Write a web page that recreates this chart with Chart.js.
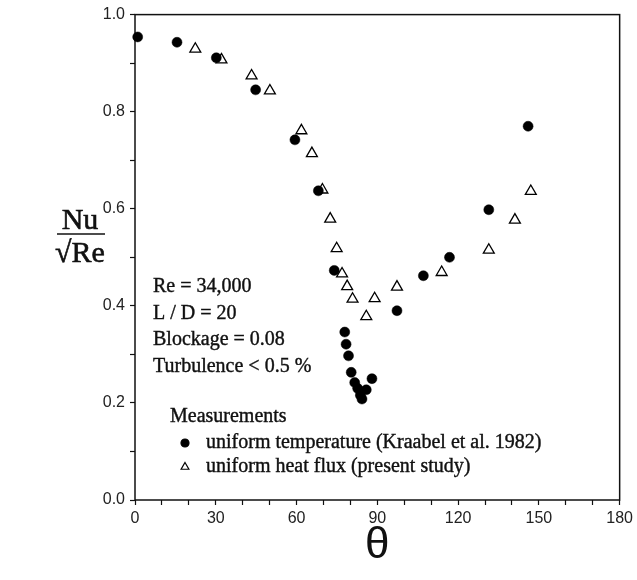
<!DOCTYPE html>
<html>
<head>
<meta charset="utf-8">
<script src="https://cdn.jsdelivr.net/npm/chart.js@4.4.0/dist/chart.umd.min.js"></script>
<style>
  html, body { margin: 0; padding: 0; background: #fff; }
</style>
</head>
<body>
<canvas id="chart" width="637" height="580"></canvas>
<script>
// theta (deg) and Nu/sqrt(Re)
const tempTheta = [1, 15.6, 30.2, 44.8, 59.4, 68.1, 74, 77.9, 78.4, 79.3, 80.3, 81.6, 82.7, 83.7, 84.3, 85.9, 88, 97.3, 107.1, 116.8, 131.4, 146];
const tempNu = [0.954, 0.943, 0.911, 0.845, 0.742, 0.637, 0.473, 0.346, 0.321, 0.297, 0.263, 0.242, 0.23, 0.216, 0.208, 0.227, 0.25, 0.39, 0.462, 0.5, 0.598, 0.77];

const fluxTheta = [22.4, 32.1, 43.3, 50.1, 61.8, 65.7, 69.6, 72.5, 74.9, 76.9, 78.8, 80.8, 85.9, 89, 97.3, 113.9, 131.4, 141.1, 147];
const fluxNu = [0.929, 0.907, 0.874, 0.843, 0.761, 0.714, 0.639, 0.579, 0.518, 0.466, 0.44, 0.414, 0.378, 0.415, 0.439, 0.469, 0.515, 0.577, 0.636];

const infoLines = ["Re = 34,000", "L / D = 20", "Blockage = 0.08", "Turbulence < 0.5 %"];
const legendTitle = "Measurements";
const seriesLabels = ["uniform temperature (Kraabel et al. 1982)", "uniform heat flux (present study)"];

const serif = '"Liberation Serif", "Times New Roman", serif';
const sans = '"Liberation Sans", Arial, sans-serif';

// box around the plot area
const frame = {
    id: "frame",
    beforeDatasetsDraw(chart) {
        const { ctx, chartArea: a } = chart;
        ctx.save();
        ctx.strokeStyle = "#111";
        ctx.lineWidth = 1.5;
        ctx.strokeRect(a.left, a.top, a.right - a.left, a.bottom - a.top);
        ctx.restore();
    }
};

// printed text looks a bit heavier than the plain font
function inkText(ctx, t, x, y) {
    ctx.fillText(t, x, y);
    ctx.strokeText(t, x, y);
}

// text block, legend and the Nu/sqrt(Re) label
const notes = {
    id: "notes",
    afterDraw(chart) {
        const ctx = chart.ctx;
        ctx.save();
        ctx.fillStyle = "#111";
        ctx.strokeStyle = "#111";
        ctx.lineWidth = 0.4;
        ctx.font = "20px " + serif;
        ctx.textBaseline = "alphabetic";
        ctx.textAlign = "left";
        infoLines.forEach((t, i) => inkText(ctx, t, 153, 292 + i * 26.5));

        inkText(ctx, legendTitle, 170, 422);
        seriesLabels.forEach((t, i) => {
            const y = 448 + i * 24;
            const ds = chart.data.datasets[i];
            ctx.save();
            ctx.fillStyle = ds.backgroundColor;
            ctx.strokeStyle = ds.borderColor;
            ctx.lineWidth = 1.2;
            Chart.helpers.drawPoint(ctx, {
                pointStyle: ds.pointStyle,
                radius: i ? 4.5 : 4,
                borderWidth: 1.2,
                rotation: 0
            }, 185, y - 5);
            ctx.restore();
            inkText(ctx, t, 206, y);
        });

        // y axis title as a fraction
        ctx.textAlign = "center";
        ctx.font = "30px " + serif;
        ctx.lineWidth = 0.6;
        inkText(ctx, "Nu", 80, 229);
        ctx.beginPath();
        ctx.moveTo(57, 234);
        ctx.lineTo(105, 234);
        ctx.lineWidth = 1.6;
        ctx.stroke();
        ctx.lineWidth = 0.6;
        inkText(ctx, "\u221ARe", 80, 262);
        ctx.restore();
    }
};

new Chart(document.getElementById("chart"), {
    type: "scatter",
    data: {
        datasets: [
            {
                label: seriesLabels[0],
                data: tempTheta.map((x, i) => ({ x: x, y: tempNu[i] })),
                pointStyle: "circle",
                pointRadius: 5,
                backgroundColor: "#000",
                borderColor: "#000",
                borderWidth: 0.5,
                clip: false
            },
            {
                label: seriesLabels[1],
                data: fluxTheta.map((x, i) => ({ x: x, y: fluxNu[i] })),
                pointStyle: "triangle",
                pointRadius: 6.3,
                backgroundColor: "#fff",
                borderColor: "#000",
                borderWidth: 1.3,
                clip: false
            }
        ]
    },
    options: {
        responsive: false,
        animation: false,
        layout: { padding: { top: 14, right: 17, left: 0, bottom: 0 } },
        plugins: { legend: { display: false }, tooltip: { enabled: false } },
        scales: {
            x: {
                type: "linear",
                min: 0,
                max: 180,
                border: { display: false },
                grid: { drawOnChartArea: false, tickLength: 5, color: "#111", tickWidth: 1.2 },
                ticks: {
                    stepSize: 10,
                    padding: 4,
                    autoSkip: false,
                    maxRotation: 0,
                    minRotation: 0,
                    color: "#222",
                    font: { family: sans, size: 16 },
                    callback: (v) => (v % 30 === 0 ? String(v) : "")
                },
                title: {
                    display: true,
                    text: "\u03B8",
                    color: "#111",
                    font: { family: sans, size: 44, weight: "normal" },
                    padding: { top: 0, bottom: 8 }
                },
                afterFit: (scale) => { scale.height = 80; }
            },
            y: {
                type: "linear",
                min: 0,
                max: 1,
                border: { display: false },
                grid: { drawOnChartArea: false, tickLength: 5, color: "#111", tickWidth: 1.2 },
                ticks: {
                    stepSize: 0.1,
                    padding: 5,
                    autoSkip: false,
                    color: "#222",
                    font: { family: sans, size: 16 },
                    callback: (v) => (Math.round(v * 10) % 2 === 0 ? v.toFixed(1) : "")
                },
                afterFit: (scale) => { scale.width = 135; }
            }
        }
    },
    plugins: [frame, notes]
});
</script>
</body>
</html>
